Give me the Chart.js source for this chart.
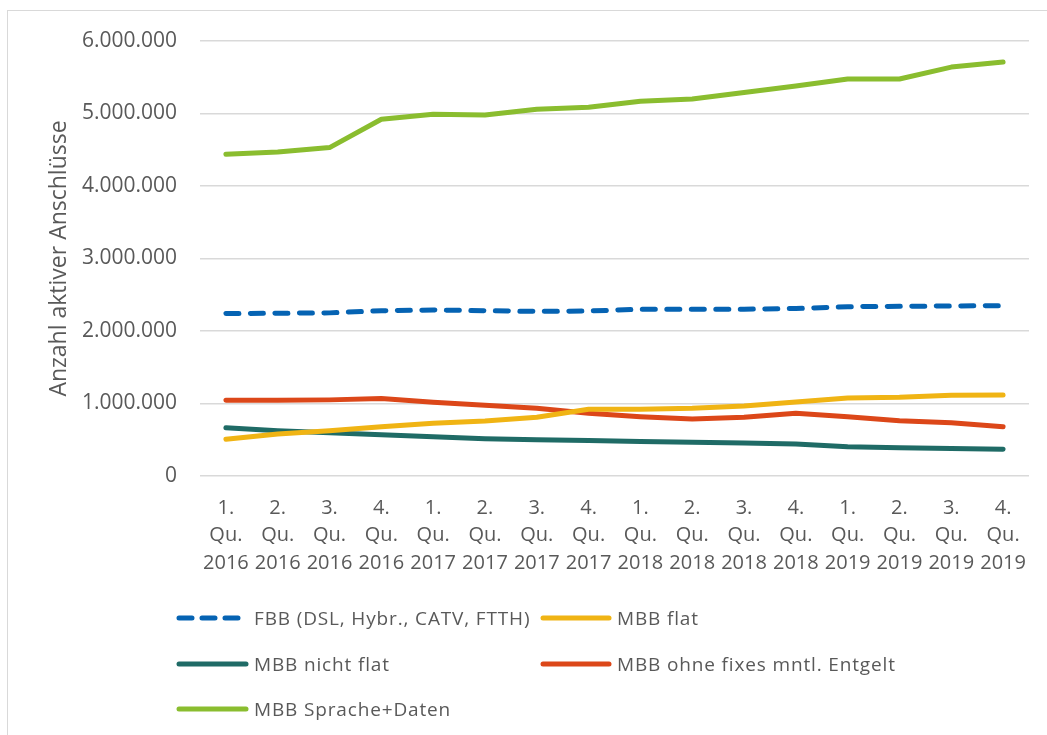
<!DOCTYPE html>
<html>
<head>
<meta charset="utf-8">
<script src="https://cdn.jsdelivr.net/npm/chart.js@4"></script>
<style>
  body { margin: 0; background: #fff; font-family: "Open Sans", sans-serif; }
  #wrap { position: relative; width: 1047px; height: 735px; overflow: hidden; }
  #frame { position: absolute; left: 7px; top: 10px; width: 1100px; height: 800px; border: 1.5px solid #d9d9d9; box-sizing: border-box; }
  #myChart { position: absolute; left: 0; top: 0; }
  .lg { position: absolute; height: 26px; font-size: 19px; letter-spacing: 0.85px; color: #595959; white-space: nowrap; }
  .lg svg { position: absolute; left: 0; top: 8px; }
  .lg span { position: absolute; top: 0; line-height: 26px; }
</style>
</head>
<body>
<div id="wrap">
  <div id="frame"></div>
  <canvas id="myChart" width="1047" height="735"></canvas>
  <div id="legend"></div>
</div>
<script>
const quarters = [
  ['1.', 'Qu.', '2016'], ['2.', 'Qu.', '2016'], ['3.', 'Qu.', '2016'], ['4.', 'Qu.', '2016'],
  ['1.', 'Qu.', '2017'], ['2.', 'Qu.', '2017'], ['3.', 'Qu.', '2017'], ['4.', 'Qu.', '2017'],
  ['1.', 'Qu.', '2018'], ['2.', 'Qu.', '2018'], ['3.', 'Qu.', '2018'], ['4.', 'Qu.', '2018'],
  ['1.', 'Qu.', '2019'], ['2.', 'Qu.', '2019'], ['3.', 'Qu.', '2019'], ['4.', 'Qu.', '2019'],
];

// values
const fbb = [2240000, 2245000, 2250000, 2280000, 2290000, 2280000, 2270000, 2276000,
  2300000, 2300000, 2300000, 2310000, 2335000, 2340000, 2345000, 2350000];
const mbbFlat = [506000, 579000, 625000, 680000, 727000, 759000, 810000, 920000,
  920000, 934000, 966000, 1020000, 1076000, 1085000, 1113000, 1117000];
const mbbNichtFlat = [667000, 625000, 597000, 570000, 542000, 514000, 500000, 490000,
  475000, 465000, 455000, 441000, 404000, 390000, 380000, 368000];
const mbbOhneFix = [1044000, 1045000, 1050000, 1070000, 1017000, 975000, 934000, 865000,
  818000, 786000, 810000, 865000, 818000, 763000, 735000, 680000];
const mbbSpracheDaten = [4437000, 4470000, 4530000, 4920000, 4990000, 4980000, 5060000, 5085000,
  5170000, 5200000, 5290000, 5380000, 5476000, 5476000, 5640000, 5710000];

const yTicks = [0, 1000000, 2000000, 3000000, 4000000, 5000000, 6000000];

const series = [
  { label: 'FBB (DSL, Hybr., CATV, FTTH)', data: fbb, color: '#0563b3', dash: [13, 11.5] },
  { label: 'MBB flat', data: mbbFlat, color: '#f0b414', dash: [] },
  { label: 'MBB nicht flat', data: mbbNichtFlat, color: '#1f6b66', dash: [] },
  { label: 'MBB ohne fixes mntl. Entgelt', data: mbbOhneFix, color: '#dc4719', dash: [] },
  { label: 'MBB Sprache+Daten', data: mbbSpracheDaten, color: '#8abd2f', dash: [] },
];

const fmt = v => v === 0 ? '0' : v.toLocaleString('de-DE');
const family = '"Open Sans", sans-serif';

new Chart('myChart', {
  type: 'line',
  data: {
    labels: quarters,
    datasets: series.map(s => ({
      label: s.label,
      data: s.data,
      borderColor: s.color,
      backgroundColor: s.color,
      borderWidth: 5,
      borderDash: s.dash,
      borderCapStyle: 'round',
      borderJoinStyle: 'round',
      pointRadius: 0,
      tension: 0,
    })),
  },
  options: {
    responsive: false,
    animation: false,
    layout: { padding: { left: 0, right: 18, top: 41, bottom: 149 } },
    plugins: { legend: { display: false }, tooltip: { enabled: false } },
    scales: {
      x: {
        offset: true,
        grid: { display: false },
        border: { display: false },
        ticks: { color: '#595959', font: { family, size: 20, lineHeight: 1.38 }, maxRotation: 0, autoSkip: false, padding: 10 },
        afterFit: s => { s.height = 110; },
      },
      y: {
        min: 0,
        max: 6000000,
        afterBuildTicks: s => { s.ticks = yTicks.map(v => ({ value: v })); },
        grid: { color: '#d9d9d9', lineWidth: 1.5, drawTicks: false },
        border: { display: false },
        ticks: { color: '#595959', font: { family, size: 21 }, padding: 23, callback: v => fmt(v) },
        title: { display: true, text: 'Anzahl aktiver Anschlüsse', color: '#595959', font: { family, size: 23 }, padding: { top: 46 } },
        afterFit: s => { s.width = 200; },
      },
    },
  },
});

// legend, two columns like the original
const legendPos = [
  { x: 176, y: 618 }, { x: 540, y: 618 },
  { x: 176, y: 664 }, { x: 540, y: 664 },
  { x: 176, y: 709 },
];
const legend = document.getElementById('legend');
series.forEach((s, i) => {
  const p = legendPos[i];
  const el = document.createElement('div');
  el.className = 'lg';
  el.style.left = p.x + 'px';
  el.style.top = (p.y - 13) + 'px';
  const w = i === 0 ? 64 : (i % 2 ? 69 : 70);
  const gap = i % 2 ? 77 : 78;
  const dash = s.dash.length ? 'stroke-dasharray="13 10"' : '';
  el.innerHTML = `<svg width="${w + 6}" height="10"><line x1="3" y1="5" x2="${w}" y2="5" stroke="${s.color}" stroke-width="5" stroke-linecap="round" ${dash}/></svg><span style="left:${gap}px">${s.label}</span>`;
  legend.appendChild(el);
});
</script>
</body>
</html>
